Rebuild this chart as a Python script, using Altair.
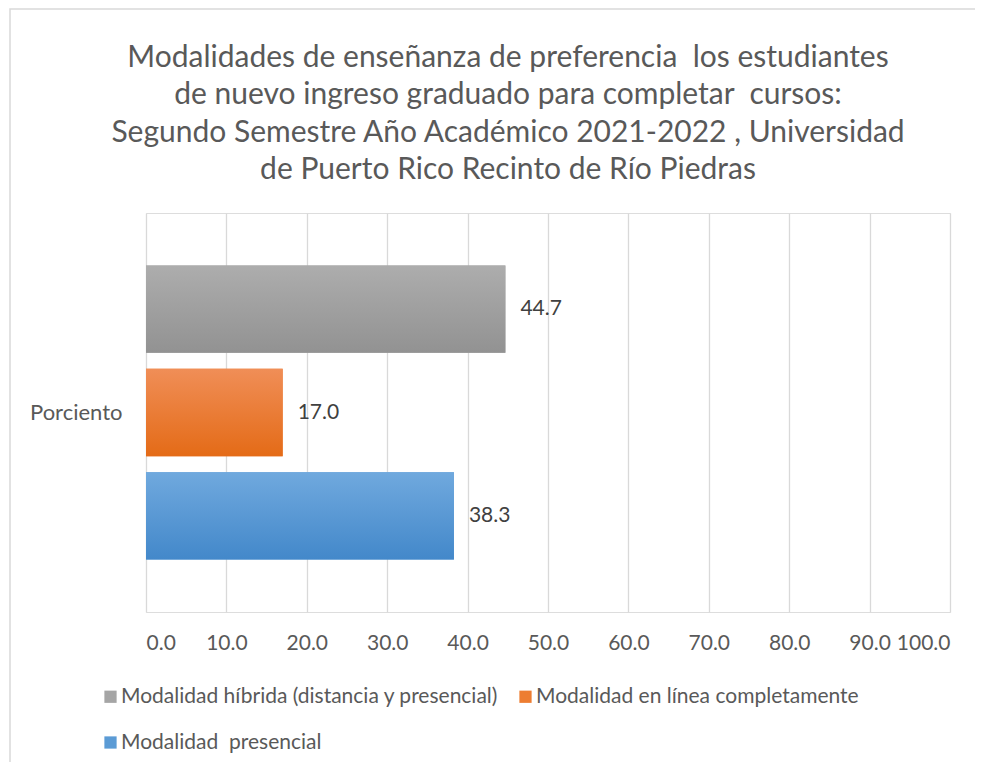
import altair as alt
import pandas as pd

grupo = ["Porciento", "Porciento", "Porciento"]
series = [
    "Modalidad híbrida (distancia y presencial)",
    "Modalidad en línea completamente",
    "Modalidad\u00a0 presencial",
]
valores = [44.7, 17.0, 38.3]
colores = ["#a5a5a5", "#ed7d31", "#5b9bd5"]
grad_top = ["#adadad", "#f08e57", "#70a9de"]
grad_bot = ["#929292", "#e46b17", "#4388ca"]
ticks = [0, 10, 20, 30, 40, 50, 60, 70, 80, 90, 100]
titulo = [
    "Modalidades de enseñanza de preferencia\u00a0 los estudiantes",
    "de nuevo ingreso graduado para completar\u00a0 cursos:",
    "Segundo Semestre Año Académico 2021-2022 , Universidad",
    "de Puerto Rico Recinto de Río Piedras",
]

FONT = "Lato"
df = pd.DataFrame({"grupo": grupo, "serie": series, "valor": valores})

# legend entries are laid out column by column: this order gives
# row 1: híbrida | en línea ; row 2: presencial
leg_order = [series[0], series[2], series[1]]
leg_colors = [colores[0], colores[2], colores[1]]

W, H = 804, 399

x = alt.X(
    "valor:Q",
    scale=alt.Scale(domain=[0, 100], nice=False),
    axis=alt.Axis(
        values=ticks, format=".1f", title=None, grid=True, gridColor="#d9d9d9",
        gridWidth=1.3, domain=False, ticks=False, labelFontSize=21,
        labelColor="#595959", labelPadding=20, labelFont=FONT,
    ),
)
y = alt.Y(
    "grupo:N",
    scale=alt.Scale(paddingOuter=0.178, paddingInner=0),
    axis=alt.Axis(
        title=None, domain=False, ticks=False, labelFontSize=22,
        labelColor="#595959", labelPadding=24, labelFont=FONT,
    ),
)
yoff = alt.YOffset("serie:N", sort=series, scale=alt.Scale(paddingInner=0.155, paddingOuter=0))

base = alt.Chart(df)

bars = base.mark_bar().encode(
    x=x, y=y, yOffset=yoff,
    color=alt.Color(
        "serie:N", sort=leg_order,
        scale=alt.Scale(domain=leg_order, range=leg_colors),
        legend=alt.Legend(
            orient="none", legendX=-46, legendY=473, columns=2, title=None,
            symbolType="square", symbolSize=150, symbolStrokeWidth=0,
            labelFontSize=21, labelColor="#595959", labelFont=FONT,
            labelLimit=600, rowPadding=24, columnPadding=16, symbolOffset=0,
            labelOffset=0,
        ),
    ),
)

layers = [bars]
for s, t, b in zip(series, grad_top, grad_bot):
    layers.append(
        base.transform_filter(alt.datum.serie == s).mark_bar(
            color=alt.Gradient(
                gradient="linear", x1=0, x2=0, y1=0, y2=1,
                stops=[alt.GradientStop(color=t, offset=0), alt.GradientStop(color=b, offset=1)],
            )
        ).encode(x=x, y=y, yOffset=yoff)
    )

labels = base.mark_text(align="left", dx=15, fontSize=21, color="#404040", font=FONT).encode(
    x=x, y=y, yOffset=yoff, text=alt.Text("valor:Q", format=".1f")
)
layers.append(labels)

one = pd.DataFrame({"a": [0]})
border = alt.Chart(one).mark_rect(
    fillOpacity=0, stroke="#d9d9d9", strokeWidth=1.5
).encode(x=alt.value(-136), x2=alt.value(1000), y=alt.value(-204), y2=alt.value(700))

title = alt.Chart(one).mark_text(
    text=titulo, fontSize=30, font=FONT, color="#595959", align="center",
    baseline="middle", lineHeight=37.3,
).encode(x=alt.value(362), y=alt.value(-155))

chart = alt.layer(border, title, *layers).properties(
    width=W, height=H,
    autosize="none",
    padding={"left": 138, "top": 205, "right": 25, "bottom": 150},
).configure_view(strokeWidth=0).configure(background="white")

chart.save("out.html", embed_options={"renderer": "svg", "actions": False})
